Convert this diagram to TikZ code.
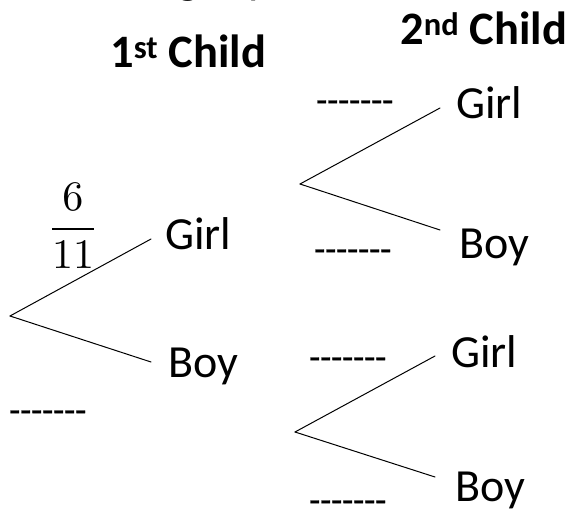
\documentclass[tikz,border=0pt]{standalone}
\usepackage{graphicx}
\usepackage{fontspec}
\setmainfont{Carlito}
\newfontfamily\dashfont[FakeBold=1.2]{Carlito}
% a row of hyphens kept apart so they do not join into dashes
\newcommand{\blankline}{-{}-{}-{}-{}-{}-{}-}
\begin{document}
\begin{tikzpicture}[x=1pt,y=-1pt,
  lbl/.style={inner sep=0pt, anchor=base west, font=\fontsize{46}{54}\selectfont},
  head/.style={inner sep=0pt, anchor=base west, font=\fontsize{46.5}{54}\selectfont\bfseries},
  blank/.style={inner sep=0pt, anchor=base west, font=\dashfont\fontsize{36}{42}\selectfont},
  branch/.style={line width=1pt, line cap=round}]
\useasboundingbox (0,0) rectangle (570,513);

% descenders of the line of text above the chart
\begin{scope}
  \clip (0,0) rectangle (570,513);
  \node[lbl] (topg) at (177,-6) {g};
  \node[lbl] (topp) at (248,-6) {p};
\end{scope}

% column headings
\node[head] (h1) at (110,68) {1\textsuperscript{st} Child};
\node[head] (h2) at (400,45) {2\textsuperscript{nd} Child};

% first child
\coordinate (r1) at (10,316);
\coordinate (e1g) at (151,239);
\coordinate (e1b) at (151,362);
\draw[branch] (r1) -- (e1g);
\draw[branch] (r1) -- (e1b);
\node[lbl] (g1) at (165,249) {Girl};
\node[lbl] (b1) at (168,377) {Boy};
\node[inner sep=0pt] (p1) at (73,226) {\scalebox{4.2}{$\displaystyle\frac{6}{11}$}};
\node[blank] (d1) at (9,422) {\blankline};

% second child after a girl
\coordinate (r2) at (300,184);
\coordinate (e2g) at (440,108);
\coordinate (e2b) at (440,230);
\draw[branch] (r2) -- (e2g);
\draw[branch] (r2) -- (e2b);
\node[lbl] (g2) at (456,119) {Girl};
\node[lbl] (b2) at (459,258) {Boy};
\node[blank] (d2) at (316,112) {\blankline};
\node[blank] (d3) at (314,261) {\blankline};

% second child after a boy
\coordinate (r3) at (295,432);
\coordinate (e3g) at (435,356);
\coordinate (e3b) at (435,477);
\draw[branch] (r3) -- (e3g);
\draw[branch] (r3) -- (e3b);
\node[lbl] (g3) at (451,367) {Girl};
\node[lbl] (b3) at (455,501) {Boy};
\node[blank] (d4) at (309,369) {\blankline};
\node[blank] (d5) at (309,512) {\blankline};
\end{tikzpicture}
\end{document}
